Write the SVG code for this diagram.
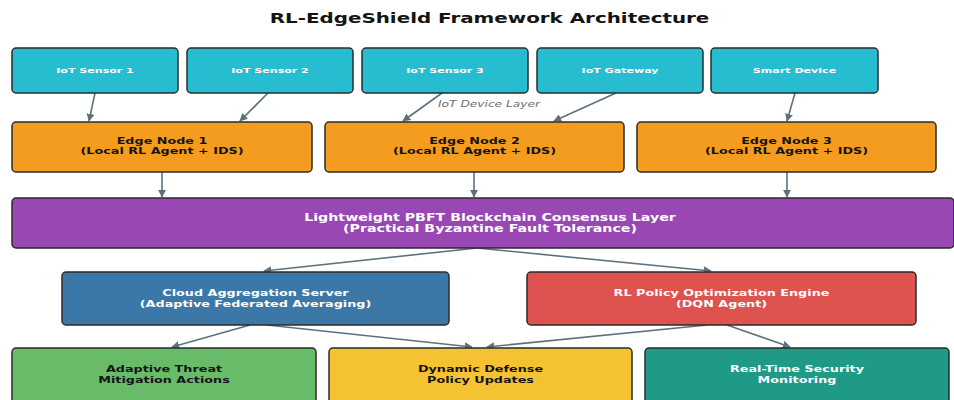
<svg xmlns="http://www.w3.org/2000/svg" width="954" height="400" viewBox="0 0 954 400">
<defs>
<style>
.box{stroke:#2b2b2b;stroke-width:1.5}
.lbl{font-family:"DejaVu Sans","Liberation Sans",sans-serif;font-weight:bold;text-anchor:middle}
.w{fill:#ffffff}
.d{fill:#141414}
.s{font-size:7.8px}
.m{font-size:9px}
.l{font-size:10px}
.conn line{stroke:#5d7080;stroke-width:1.6;fill:none}
</style>
<marker id="ah" viewBox="0 0 10 10" refX="9" refY="5" markerWidth="8" markerHeight="8" markerUnits="userSpaceOnUse" orient="auto">
<path d="M0,0 L10,5 L0,10 z" fill="#5d7080"/>
</marker>
</defs>
<rect width="954" height="400" fill="#ffffff"/>
<text class="lbl d" transform="translate(489.5,23) scale(1.42,1)" style="font-size:14px">RL-EdgeShield Framework Architecture</text>

<g id="connectors" class="conn">
<line x1="95" y1="93" x2="89" y2="121" marker-end="url(#ah)"/>
<line x1="268" y1="93" x2="240" y2="121" marker-end="url(#ah)"/>
<line x1="442" y1="93" x2="403" y2="121" marker-end="url(#ah)"/>
<line x1="616" y1="93" x2="554" y2="121" marker-end="url(#ah)"/>
<line x1="795" y1="93" x2="787" y2="121" marker-end="url(#ah)"/>
<line x1="162" y1="172" x2="162" y2="197" marker-end="url(#ah)"/>
<line x1="474" y1="172" x2="474" y2="197" marker-end="url(#ah)"/>
<line x1="787" y1="172" x2="787" y2="197" marker-end="url(#ah)"/>
<line x1="477" y1="248" x2="264" y2="271" marker-end="url(#ah)"/>
<line x1="477" y1="248" x2="711" y2="271" marker-end="url(#ah)"/>
<line x1="250" y1="325" x2="172" y2="347" marker-end="url(#ah)"/>
<line x1="267" y1="325" x2="472" y2="347" marker-end="url(#ah)"/>
<line x1="707" y1="325" x2="487" y2="347" marker-end="url(#ah)"/>
<line x1="727" y1="325" x2="790" y2="347" marker-end="url(#ah)"/>
</g>

<text transform="translate(489,107) scale(1.42,1)" style="font-family:'DejaVu Sans','Liberation Sans',sans-serif;font-style:italic;font-size:8.6px;fill:#6f6f6f;text-anchor:middle">IoT Device Layer</text>

<g id="sensor1"><rect class="box" x="12" y="48" width="166" height="45" rx="4" fill="#27bdd1"/><text class="lbl w s" transform="translate(95,73) scale(1.42,1)">IoT Sensor 1</text></g>
<g id="sensor2"><rect class="box" x="187" y="48" width="166" height="45" rx="4" fill="#27bdd1"/><text class="lbl w s" transform="translate(270,73) scale(1.42,1)">IoT Sensor 2</text></g>
<g id="sensor3"><rect class="box" x="362" y="48" width="166" height="45" rx="4" fill="#27bdd1"/><text class="lbl w s" transform="translate(445,73) scale(1.42,1)">IoT Sensor 3</text></g>
<g id="gateway"><rect class="box" x="537" y="48" width="166" height="45" rx="4" fill="#27bdd1"/><text class="lbl w s" transform="translate(620,73) scale(1.42,1)">IoT Gateway</text></g>
<g id="smartdevice"><rect class="box" x="711" y="48" width="167" height="45" rx="4" fill="#27bdd1"/><text class="lbl w s" transform="translate(794.5,73) scale(1.42,1)">Smart Device</text></g>

<g id="edge1"><rect class="box" x="12" y="122" width="300" height="50" rx="4" fill="#f39c1f"/><text class="lbl d m" transform="translate(162,143.5) scale(1.42,1)"><tspan x="0" y="0">Edge Node 1</tspan><tspan x="0" y="11">(Local RL Agent + IDS)</tspan></text></g>
<g id="edge2"><rect class="box" x="325" y="122" width="299" height="50" rx="4" fill="#f39c1f"/><text class="lbl d m" transform="translate(474.5,143.5) scale(1.42,1)"><tspan x="0" y="0">Edge Node 2</tspan><tspan x="0" y="11">(Local RL Agent + IDS)</tspan></text></g>
<g id="edge3"><rect class="box" x="637" y="122" width="299" height="50" rx="4" fill="#f39c1f"/><text class="lbl d m" transform="translate(786.5,143.5) scale(1.42,1)"><tspan x="0" y="0">Edge Node 3</tspan><tspan x="0" y="11">(Local RL Agent + IDS)</tspan></text></g>

<g id="blockchain"><rect class="box" x="12" y="198" width="942" height="50" rx="4" fill="#9a47b6"/><text class="lbl w l" transform="translate(490,221) scale(1.42,1)"><tspan x="0" y="0">Lightweight PBFT Blockchain Consensus Layer</tspan><tspan x="0" y="11">(Practical Byzantine Fault Tolerance)</tspan></text></g>

<g id="cloud"><rect class="box" x="62" y="272" width="387" height="53" rx="4" fill="#3b78a8"/><text class="lbl w m" transform="translate(255.5,296) scale(1.42,1)"><tspan x="0" y="0">Cloud Aggregation Server</tspan><tspan x="0" y="11">(Adaptive Federated Averaging)</tspan></text></g>
<g id="rlengine"><rect class="box" x="527" y="272" width="389" height="53" rx="4" fill="#de5350"/><text class="lbl w m" transform="translate(721.5,296) scale(1.42,1)"><tspan x="0" y="0">RL Policy Optimization Engine</tspan><tspan x="0" y="11">(DQN Agent)</tspan></text></g>

<g id="mitigation"><rect class="box" x="12" y="348" width="304" height="60" rx="4" fill="#67bb69"/><text class="lbl d m" transform="translate(164,372) scale(1.42,1)"><tspan x="0" y="0">Adaptive Threat</tspan><tspan x="0" y="11">Mitigation Actions</tspan></text></g>
<g id="defense"><rect class="box" x="329" y="348" width="303" height="60" rx="4" fill="#f4c232"/><text class="lbl d m" transform="translate(480.5,372) scale(1.42,1)"><tspan x="0" y="0">Dynamic Defense</tspan><tspan x="0" y="11">Policy Updates</tspan></text></g>
<g id="monitoring"><rect class="box" x="645" y="348" width="304" height="60" rx="4" fill="#1e9a86"/><text class="lbl w m" transform="translate(797,372) scale(1.42,1)"><tspan x="0" y="0">Real-Time Security</tspan><tspan x="0" y="11">Monitoring</tspan></text></g>
</svg>
